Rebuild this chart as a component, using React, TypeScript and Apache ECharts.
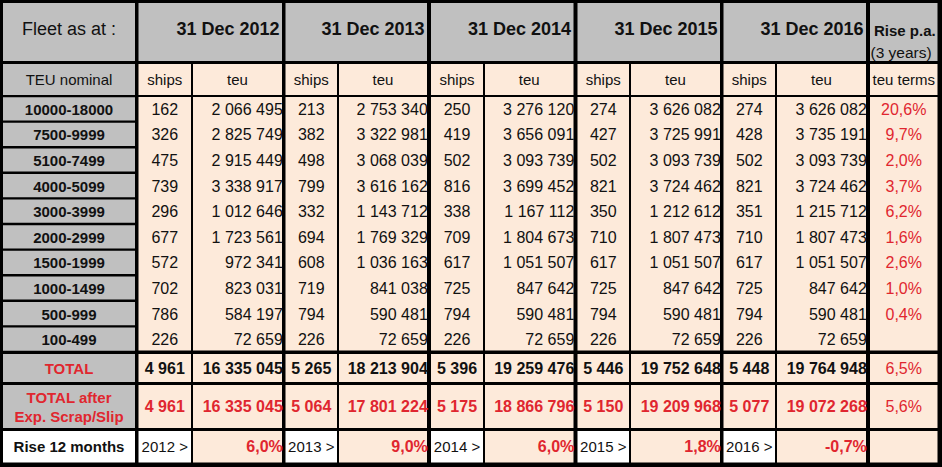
import React, { useEffect, useRef } from "react";
import * as echarts from "echarts";

// ---------------- DATA ----------------
const categories = [
  "10000-18000", "7500-9999", "5100-7499", "4000-5099", "3000-3999",
  "2000-2999", "1500-1999", "1000-1499", "500-999", "100-499",
];
const years = ["2012", "2013", "2014", "2015", "2016"];

const ships2012 = [162, 326, 475, 739, 296, 677, 572, 702, 786, 226];
const teu2012 = [2066495, 2825749, 2915449, 3338917, 1012646, 1723561, 972341, 823031, 584197, 72659];
const ships2013 = [213, 382, 498, 799, 332, 694, 608, 719, 794, 226];
const teu2013 = [2753340, 3322981, 3068039, 3616162, 1143712, 1769329, 1036163, 841038, 590481, 72659];
const ships2014 = [250, 419, 502, 816, 338, 709, 617, 725, 794, 226];
const teu2014 = [3276120, 3656091, 3093739, 3699452, 1167112, 1804673, 1051507, 847642, 590481, 72659];
const ships2015 = [274, 427, 502, 821, 350, 710, 617, 725, 794, 226];
const teu2015 = [3626082, 3725991, 3093739, 3724462, 1212612, 1807473, 1051507, 847642, 590481, 72659];
const ships2016 = [274, 428, 502, 821, 351, 710, 617, 725, 794, 226];
const teu2016 = [3626082, 3735191, 3093739, 3724462, 1215712, 1807473, 1051507, 847642, 590481, 72659];

const totalShips = [4961, 5265, 5396, 5446, 5448];
const totalTeu = [16335045, 18213904, 19259476, 19752648, 19764948];
const afterShips = [4961, 5064, 5175, 5150, 5077];
const afterTeu = [16335045, 17801224, 18866796, 19209968, 19072268];
const rise12Months = [6.0, 9.0, 6.0, 1.8, -0.7];
const risePa: (number | null)[] = [20.6, 9.7, 2.0, 3.7, 6.2, 1.6, 2.6, 1.0, 0.4, null];
const risePaTotal = 6.5;
const risePaAfter = 5.6;

const shipsByYear = [ships2012, ships2013, ships2014, ships2015, ships2016];
const teuByYear = [teu2012, teu2013, teu2014, teu2015, teu2016];

// ---------------- LAYOUT / STYLE ----------------
const W = 942;
const H = 467;
const GREY = "#c0c0c0";
const BEIGE = "#fdeada";
const WHITE = "#ffffff";
const RED = "#e0262f";
const BLACK = "#111111";
const FONT = '"Liberation Sans", Arial, sans-serif';

const labelCol = [3, 135];
const yearCols = [
  [138.5, 191, 193, 282],
  [285.5, 337, 339, 427],
  [431, 483, 485, 573.5],
  [577.5, 629, 631, 720],
  [723.5, 775, 777, 866],
];
const riseCol = [870, 937.5];

const headerRow = [3, 61];
const subRow = [64, 95];
const dataTop = 96;
const dataPitch = 25.6;
const totalRow = [354, 382];
const afterRow = [385, 428];
const riseRow = [431, 462.5];

const fmtInt = (v: number) => String(v).replace(/\B(?=(\d{3})+(?!\d))/g, " ");
const fmtPct = (v: number) => v.toFixed(1).replace(".", ",") + "%";

type Cell = {
  x0: number; y0: number; x1: number; y1: number;
  fill?: string;
  text?: string;
  align?: "left" | "center" | "right";
  tx?: number; ty?: number;
  size?: number; bold?: boolean; color?: string; lineHeight?: number;
};

function buildCells(): Cell[] {
  const cells: Cell[] = [];
  const txt = (c: Cell) => {
    const align = c.align || "center";
    const tx = c.tx !== undefined ? c.tx : align === "center" ? (c.x0 + c.x1) / 2 : align === "right" ? c.x1 + 0.8 : c.x0 + 3;
    const ty = c.ty !== undefined ? c.ty : (c.y0 + c.y1) / 2;
    cells.push({ ...c, align, tx, ty });
  };

  // header row
  txt({ x0: labelCol[0], x1: labelCol[1], y0: headerRow[0], y1: headerRow[1], fill: GREY, text: "Fleet as at :", ty: 28.5, size: 18 });
  years.forEach((y, i) => {
    const c = yearCols[i];
    txt({ x0: c[0], x1: c[3], y0: headerRow[0], y1: headerRow[1], fill: GREY, text: "31 Dec " + y, align: "right", tx: c[3] - 2.5, ty: 29, size: 18, bold: true });
  });
  txt({ x0: riseCol[0], x1: riseCol[1], y0: headerRow[0], y1: headerRow[1], fill: GREY, text: "Rise p.a.", align: "left", tx: 874, ty: 30, size: 15, bold: true });
  txt({ x0: riseCol[0], x1: riseCol[0], y0: headerRow[0], y1: headerRow[0], text: "(3 years)", align: "left", tx: 870.5, ty: 52, size: 15.5 });

  // sub header row
  txt({ x0: labelCol[0], x1: labelCol[1], y0: subRow[0], y1: subRow[1], fill: GREY, text: "TEU nominal", size: 15 });
  yearCols.forEach((c) => {
    txt({ x0: c[0], x1: c[1], y0: subRow[0], y1: subRow[1], fill: BEIGE, text: "ships", size: 15 });
    txt({ x0: c[2], x1: c[3], y0: subRow[0], y1: subRow[1], fill: BEIGE, text: "teu", size: 15 });
  });
  txt({ x0: riseCol[0], x1: riseCol[1], y0: subRow[0], y1: subRow[1], fill: BEIGE, text: "teu terms", size: 15 });

  // beige data blocks (no horizontal rules inside)
  const dataBottom = dataTop + dataPitch * categories.length;
  const blockY0 = dataTop + 1;
  const blockY1 = dataBottom - 1.5;
  yearCols.forEach((c) => {
    cells.push({ x0: c[0], x1: c[1], y0: blockY0, y1: blockY1, fill: BEIGE });
    cells.push({ x0: c[2], x1: c[3], y0: blockY0, y1: blockY1, fill: BEIGE });
  });
  cells.push({ x0: riseCol[0], x1: riseCol[1], y0: blockY0, y1: blockY1, fill: BEIGE });

  categories.forEach((cat, r) => {
    const a = dataTop + dataPitch * r;
    const b = a + dataPitch;
    const cy = (a + b) / 2 + 0.5;
    txt({ x0: labelCol[0], x1: labelCol[1], y0: a + 1.2, y1: b - 1.2, fill: GREY, text: cat, ty: cy, size: 15, bold: true });
    yearCols.forEach((c, i) => {
      txt({ x0: c[0], x1: c[1], y0: a, y1: a, text: String(shipsByYear[i][r]), ty: cy, size: 16 });
      txt({ x0: c[2], x1: c[3], y0: a, y1: a, text: fmtInt(teuByYear[i][r]), align: "right", ty: cy, size: 16 });
    });
    const rp = risePa[r];
    if (rp !== null) {
      txt({ x0: riseCol[0], x1: riseCol[1], y0: a, y1: a, text: fmtPct(rp), ty: cy, size: 16, color: RED });
    }
  });

  // TOTAL row
  txt({ x0: labelCol[0], x1: labelCol[1], y0: totalRow[0], y1: totalRow[1], fill: GREY, text: "TOTAL", size: 15, bold: true, color: RED });
  yearCols.forEach((c, i) => {
    txt({ x0: c[0], x1: c[1], y0: totalRow[0], y1: totalRow[1], fill: BEIGE, text: fmtInt(totalShips[i]), size: 16, bold: true });
    txt({ x0: c[2], x1: c[3], y0: totalRow[0], y1: totalRow[1], fill: BEIGE, text: fmtInt(totalTeu[i]), align: "right", size: 16, bold: true });
  });
  txt({ x0: riseCol[0], x1: riseCol[1], y0: totalRow[0], y1: totalRow[1], fill: BEIGE, text: fmtPct(risePaTotal), size: 16, color: RED });

  // TOTAL after row
  txt({ x0: labelCol[0], x1: labelCol[1], y0: afterRow[0], y1: afterRow[1], fill: GREY, text: "TOTAL after\nExp. Scrap/Slip", size: 15, bold: true, color: RED, lineHeight: 18.5, ty: 407 });
  yearCols.forEach((c, i) => {
    txt({ x0: c[0], x1: c[1], y0: afterRow[0], y1: afterRow[1], fill: BEIGE, text: fmtInt(afterShips[i]), size: 16, bold: true, color: RED });
    txt({ x0: c[2], x1: c[3], y0: afterRow[0], y1: afterRow[1], fill: BEIGE, text: fmtInt(afterTeu[i]), align: "right", size: 16, bold: true, color: RED });
  });
  txt({ x0: riseCol[0], x1: riseCol[1], y0: afterRow[0], y1: afterRow[1], fill: BEIGE, text: fmtPct(risePaAfter), size: 16, color: RED });

  // Rise 12 months row
  txt({ x0: labelCol[0], x1: labelCol[1], y0: riseRow[0], y1: riseRow[1], fill: WHITE, text: "Rise 12 months", size: 15, bold: true });
  yearCols.forEach((c, i) => {
    txt({ x0: c[0], x1: c[1], y0: riseRow[0], y1: riseRow[1], fill: WHITE, text: years[i] + " >", size: 15 });
    txt({ x0: c[2], x1: c[3], y0: riseRow[0], y1: riseRow[1], fill: BEIGE, text: fmtPct(rise12Months[i]), align: "right", size: 16, bold: true, color: RED });
  });
  cells.push({ x0: riseCol[0], x1: riseCol[1], y0: riseRow[0], y1: riseRow[1], fill: BEIGE });

  return cells;
}

export default function App() {
  const ref = useRef<HTMLDivElement>(null);
  useEffect(() => {
    if (!ref.current) return;
    const chart = echarts.init(ref.current, null, { renderer: "svg" });
    const cells = buildCells();
    const data = cells.map((c, i) => [c.x0, c.y0, i]);

    const fillRender = (params: any, api: any) => {
      const c = cells[api.value(2)];
      if (!c.fill) return { type: "group", children: [] };
      const p0 = api.coord([c.x0, c.y0]);
      const p1 = api.coord([c.x1, c.y1]);
      return {
        type: "rect",
        shape: { x: p0[0], y: p0[1], width: p1[0] - p0[0], height: p1[1] - p0[1] },
        style: { fill: c.fill },
        silent: true,
      };
    };
    const textRender = (params: any, api: any) => {
      const c = cells[api.value(2)];
      if (!c.text) return { type: "group", children: [] };
      const p = api.coord([c.tx, c.ty]);
      return {
        type: "text",
        x: p[0],
        y: p[1],
        silent: true,
        style: {
          text: c.text,
          fill: c.color || BLACK,
          fontSize: c.size || 16,
          fontWeight: c.bold ? "bold" : "normal",
          fontFamily: FONT,
          align: c.align,
          verticalAlign: "middle",
          lineHeight: c.lineHeight,
        },
      };
    };

    chart.setOption({
      animation: false,
      backgroundColor: "#000000",
      grid: { left: 0, right: 0, top: 0, bottom: 0 },
      xAxis: { type: "value", min: 0, max: W, show: false },
      yAxis: { type: "value", min: 0, max: H, inverse: true, show: false },
      series: [
        { type: "custom", name: "cells", coordinateSystem: "cartesian2d", clip: false, data, encode: { x: 0, y: 1 }, renderItem: fillRender, z: 1 },
        { type: "custom", name: "labels", coordinateSystem: "cartesian2d", clip: false, data, encode: { x: 0, y: 1 }, renderItem: textRender, z: 2 },
      ],
    });
    return () => chart.dispose();
  }, []);
  return <div ref={ref} style={{ position: "absolute", left: 0, top: 0, width: W, height: H }} />;
}
